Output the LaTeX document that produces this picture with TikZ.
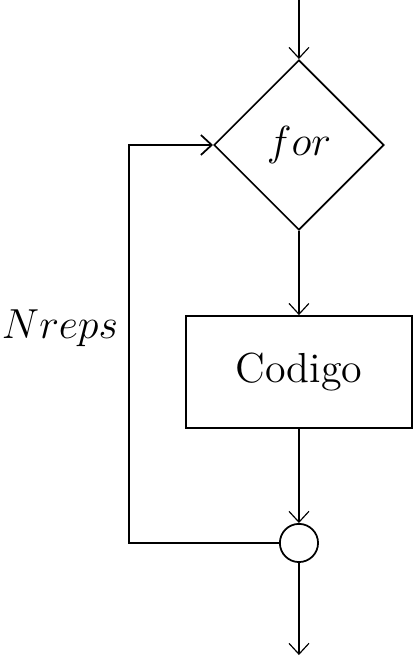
\documentclass[tikz,border=0pt]{standalone}
\usetikzlibrary{shapes.geometric,arrows.meta}
\tikzset{
  decision/.style={diamond,draw,semithick,minimum width=2.05cm,minimum height=2.05cm,inner sep=0pt},
  block/.style={rectangle,draw,semithick,minimum width=2.72cm,minimum height=1.35cm},
  joint/.style={circle,draw,semithick,minimum size=0.46cm,inner sep=0pt}
}
\begin{document}
\begin{tikzpicture}[scale=1.0,font=\Large,>={Straight Barb[length=1.3mm,width=2.4mm]}]
\useasboundingbox (0,0) rectangle (5.012,-7.952);
\coordinate (start) at (3.602,0);
\node[decision] (for) at (3.602,-1.747) {$for$};
\node[block] (code) at (3.602,-4.482) {Codigo};
\node[joint] (join) at (3.602,-6.542) {};
\coordinate (stop) at (3.602,-7.892);
\coordinate (loopb) at (1.554,-6.542);
\coordinate (loopt) at (1.554,-1.747);
\draw[->] (start) -- (for.north);
\draw[->] (for.south) -- (code.north);
\draw[->] (code.south) -- (join.north);
\draw[->] (join.south) -- (stop);
\draw[->,semithick] (join.west) -- (loopb) -- (loopt) -- (for.west);
\node at (0.723,-3.952) {$Nreps$};
\end{tikzpicture}
\end{document}
